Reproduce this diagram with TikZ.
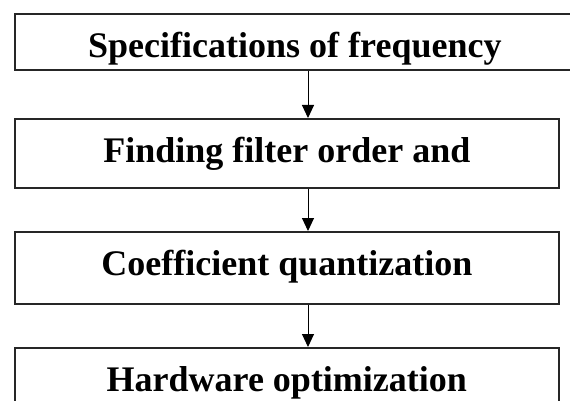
\documentclass[tikz,border=0pt]{standalone}
\usepackage{fontspec}
\setmainfont{Liberation Serif}
\usetikzlibrary{arrows.meta}
\begin{document}
\begin{tikzpicture}[x=1pt,y=1pt,
        box/.style={draw=black!85,line width=1.7pt,fill=white,inner sep=0pt,
            anchor=north west,minimum width=544pt,text height=44pt,
            font=\fontsize{36}{40}\selectfont\bfseries},
        flow/.style={line width=1pt,-{Triangle[length=13pt,width=12pt]}}]
                \useasboundingbox (0,0) rectangle (570,-401);
                \node[box,minimum width=560pt,text depth=12pt] (spec) at (14,-13)
                    {Specifications of frequency};
                \node[box,text depth=25pt] (order) at (14,-118)
                    {Finding filter order and};
                \node[box,text depth=28pt] (quant) at (14,-231)
                    {Coefficient quantization};
                \node[box,text depth=26pt] (hw) at (14,-347)
                    {Hardware optimization};
                \coordinate (ax) at (308,0);
                \draw[flow] (spec.south -| ax) -- (order.north -| ax);
                \draw[flow] (order.south -| ax) -- (quant.north -| ax);
                \draw[flow] (quant.south -| ax) -- (hw.north -| ax);
            \end{tikzpicture}
\end{document}
